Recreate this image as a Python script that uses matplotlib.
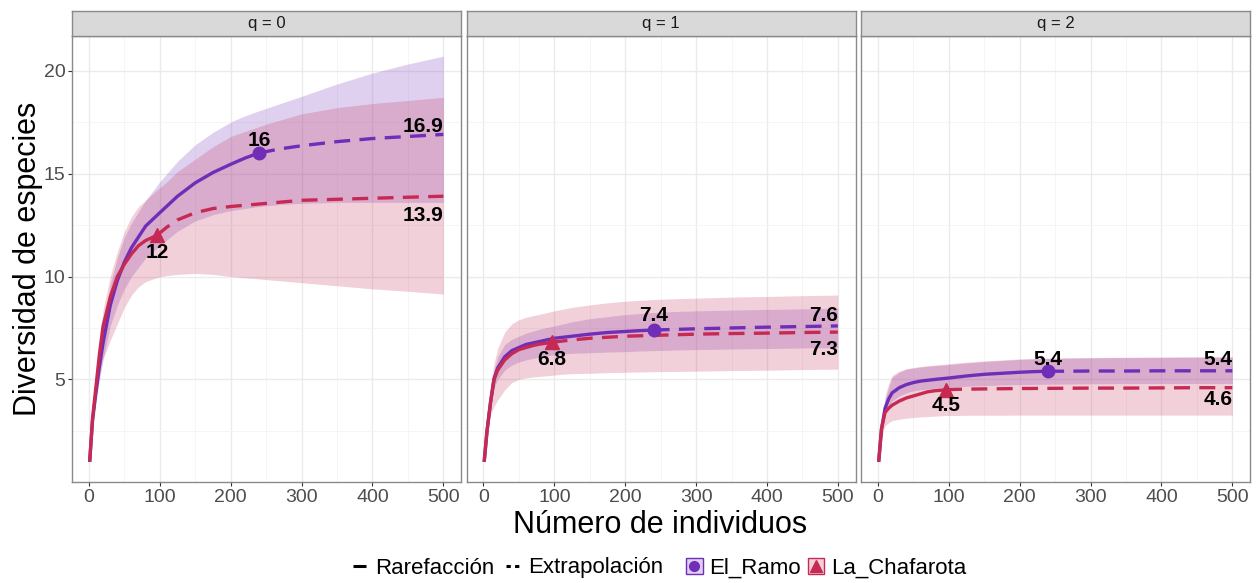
import matplotlib.pyplot as plt
from matplotlib.colors import to_rgba
from matplotlib.legend_handler import HandlerTuple
from matplotlib.lines import Line2D
from matplotlib.patches import Patch

plt.rcParams['font.family'] = ['Liberation Sans', 'DejaVu Sans']

# Sample sizes (individuals) for the interpolated and extrapolated parts
n_ramo_rare = [1, 5, 10, 15, 20, 30, 40, 50, 60, 80, 100, 125, 150, 175, 200, 220, 240]
n_ramo_ext = [240, 270, 300, 350, 400, 450, 500]
n_chaf_rare = [1, 5, 10, 15, 20, 30, 40, 50, 60, 70, 80, 96]
n_chaf_ext = [96, 110, 125, 150, 175, 200, 250, 300, 350, 400, 450, 500]

# q = 0 (species richness)
ramo_q0_rare = [1.0, 3.0, 4.4, 5.7, 6.8, 8.6, 9.8, 10.7, 11.4, 12.45, 13.1, 13.9, 14.55, 15.05, 15.45,
                15.75, 16.0]
ramo_q0_ext = [16.0, 16.2, 16.35, 16.55, 16.7, 16.8, 16.9]
ramo_q0_lo = [1.0, 2.8, 4.1, 5.0, 6.0, 7.6, 8.6, 9.4, 10.0, 10.9, 11.5, 12.2, 12.7, 13.0, 13.2, 13.3,
              13.4, 13.5, 13.55, 13.6, 13.6, 13.6, 13.6]
ramo_q0_hi = [1.0, 3.2, 4.8, 6.3, 7.6, 9.6, 10.9, 11.9, 12.6, 13.7, 14.6, 15.6, 16.4, 17.0, 17.5, 17.8,
              18.05, 18.4, 18.75, 19.35, 19.88, 20.32, 20.7]
chaf_q0_rare = [1.0, 3.1, 4.7, 6.3, 7.6, 9.0, 10.0, 10.6, 11.1, 11.5, 11.75, 12.0]
chaf_q0_ext = [12.0, 12.4, 12.75, 13.1, 13.3, 13.4, 13.55, 13.7, 13.75, 13.8, 13.85, 13.9]
chaf_q0_lo = [1.0, 2.8, 4.2, 5.3, 6.0, 6.9, 7.7, 8.5, 9.1, 9.5, 9.75, 9.95, 10.05, 10.1, 10.15, 10.1,
              10.0, 9.85, 9.7, 9.55, 9.4, 9.28, 9.15]
chaf_q0_hi = [1.0, 3.4, 5.3, 7.1, 8.4, 10.0, 11.2, 12.2, 12.9, 13.4, 13.7, 14.2, 14.6, 15.1, 15.7, 16.3,
              16.8, 17.4, 17.9, 18.2, 18.4, 18.55, 18.7]

# q = 1 (exponential of Shannon entropy)
ramo_q1_rare = [1.0, 2.5, 3.9, 5.05, 5.55, 6.1, 6.4, 6.55, 6.7, 6.85, 7.0, 7.1, 7.2, 7.28, 7.33, 7.37,
                7.4]
ramo_q1_ext = [7.4, 7.43, 7.46, 7.5, 7.54, 7.57, 7.6]
ramo_q1_lo = [1.0, 2.3, 3.6, 4.6, 5.0, 5.45, 5.7, 5.85, 5.95, 6.1, 6.2, 6.27, 6.3, 6.33, 6.35, 6.38,
              6.4, 6.43, 6.45, 6.48, 6.5, 6.53, 6.55]
ramo_q1_hi = [1.0, 2.7, 4.3, 5.5, 6.1, 6.7, 6.95, 7.1, 7.25, 7.45, 7.6, 7.8, 7.95, 8.05, 8.15, 8.2,
              8.25, 8.3, 8.33, 8.37, 8.4, 8.43, 8.45]
chaf_q1_rare = [1.0, 2.5, 3.9, 5.0, 5.45, 5.95, 6.25, 6.45, 6.55, 6.65, 6.72, 6.8]
chaf_q1_ext = [6.8, 6.86, 6.92, 7.0, 7.05, 7.1, 7.15, 7.2, 7.23, 7.25, 7.28, 7.3]
chaf_q1_lo = [1.0, 2.2, 3.3, 3.7, 4.0, 4.5, 4.85, 5.0, 5.08, 5.12, 5.15, 5.2, 5.25, 5.28, 5.3, 5.33,
              5.35, 5.38, 5.4, 5.43, 5.45, 5.48, 5.5]
chaf_q1_hi = [1.0, 3.0, 4.8, 5.8, 6.5, 7.3, 7.7, 7.9, 8.02, 8.1, 8.17, 8.3, 8.4, 8.5, 8.62, 8.72,
              8.8, 8.9, 8.95, 9.0, 9.03, 9.07, 9.1]

# q = 2 (inverse Simpson)
ramo_q2_rare = [1.0, 2.6, 3.6, 4.05, 4.35, 4.6, 4.75, 4.85, 4.92, 5.0, 5.07, 5.17, 5.25, 5.3, 5.35,
                5.38, 5.4]
ramo_q2_ext = [5.4, 5.4, 5.41, 5.41, 5.42, 5.42, 5.42]
ramo_q2_lo = [1.0, 2.4, 3.3, 3.7, 3.95, 4.2, 4.35, 4.45, 4.5, 4.57, 4.62, 4.67, 4.7, 4.73, 4.75, 4.76,
              4.77, 4.78, 4.79, 4.8, 4.8, 4.8, 4.8]
ramo_q2_hi = [1.0, 2.8, 4.0, 4.6, 5.1, 5.35, 5.5, 5.55, 5.6, 5.67, 5.72, 5.8, 5.87, 5.92, 5.97, 6.0,
              6.02, 6.04, 6.05, 6.06, 6.07, 6.08, 6.08]
chaf_q2_rare = [1.0, 2.6, 3.4, 3.6, 3.75, 3.95, 4.1, 4.2, 4.3, 4.4, 4.45, 4.5]
chaf_q2_ext = [4.5, 4.52, 4.53, 4.54, 4.55, 4.56, 4.57, 4.58, 4.58, 4.59, 4.6, 4.6]
chaf_q2_lo = [1.0, 2.2, 2.75, 2.9, 3.0, 3.07, 3.12, 3.15, 3.18, 3.2, 3.22, 3.25, 3.25, 3.26, 3.26, 3.26,
              3.27, 3.27, 3.27, 3.27, 3.27, 3.27, 3.27]
chaf_q2_hi = [1.0, 2.9, 4.2, 4.8, 5.2, 5.4, 5.52, 5.58, 5.63, 5.67, 5.7, 5.75, 5.8, 5.84, 5.9, 5.95,
              6.0, 6.04, 6.06, 6.08, 6.09, 6.1, 6.1]

orders = ['q = 0', 'q = 1', 'q = 2']
sites = ['El_Ramo', 'La_Chafarota']
colors = {'El_Ramo': '#6F2DB8', 'La_Chafarota': '#C62A52'}
markers = {'El_Ramo': ('o', 9), 'La_Chafarota': ('^', 10)}
sizes = {'El_Ramo': (n_ramo_rare, n_ramo_ext), 'La_Chafarota': (n_chaf_rare, n_chaf_ext)}

curves = {
    ('q = 0', 'El_Ramo'): (ramo_q0_rare, ramo_q0_ext, ramo_q0_lo, ramo_q0_hi),
    ('q = 0', 'La_Chafarota'): (chaf_q0_rare, chaf_q0_ext, chaf_q0_lo, chaf_q0_hi),
    ('q = 1', 'El_Ramo'): (ramo_q1_rare, ramo_q1_ext, ramo_q1_lo, ramo_q1_hi),
    ('q = 1', 'La_Chafarota'): (chaf_q1_rare, chaf_q1_ext, chaf_q1_lo, chaf_q1_hi),
    ('q = 2', 'El_Ramo'): (ramo_q2_rare, ramo_q2_ext, ramo_q2_lo, ramo_q2_hi),
    ('q = 2', 'La_Chafarota'): (chaf_q2_rare, chaf_q2_ext, chaf_q2_lo, chaf_q2_hi),
}

# vertical nudges (points) for the observed / extrapolated value labels
nudges = {
    ('q = 0', 'El_Ramo'): (4.8, 1.6),
    ('q = 0', 'La_Chafarota'): (-16.2, -18.0),
    ('q = 1', 'El_Ramo'): (6.5, 3.4),
    ('q = 1', 'La_Chafarota'): (-16.5, -16.8),
    ('q = 2', 'El_Ramo'): (4.5, 3.9),
    ('q = 2', 'La_Chafarota'): (-15.4, -12.2),
}

RIBBON_ALPHA = 0.22
W, H = 1256, 583


def fmt(v):
    return f"{round(v, 1):g}"


def draw_panel(ax, q):
    # ribbons first, then curves, then observed points and value labels
    for site in sites:
        n_rare, n_ext = sizes[site]
        rare, ext, lo, hi = curves[(q, site)]
        ax.fill_between(n_rare + n_ext[1:], lo, hi, color=colors[site],
                        alpha=RIBBON_ALPHA, lw=0)
    for site in sites:
        n_rare, n_ext = sizes[site]
        rare, ext, lo, hi = curves[(q, site)]
        ax.plot(n_rare, rare, color=colors[site], lw=2.4, solid_capstyle='butt',
                solid_joinstyle='round')
        ax.plot(n_ext, ext, color=colors[site], lw=2.4, dashes=(4.8, 2.8))
    for site in sites:
        n_rare, n_ext = sizes[site]
        rare, ext, lo, hi = curves[(q, site)]
        m, ms = markers[site]
        ax.plot(n_rare[-1], rare[-1], marker=m, ms=ms, color=colors[site], ls='none')
        dy_obs, dy_ext = nudges[(q, site)]
        ax.annotate(fmt(rare[-1]), (n_rare[-1], rare[-1]), xytext=(0, dy_obs),
                    textcoords='offset points', ha='center', va='baseline',
                    fontsize=15, fontweight='bold', color='black')
        ax.annotate(fmt(ext[-1]), (n_ext[-1], ext[-1]), xytext=(0, dy_ext),
                    textcoords='offset points', ha='right', va='baseline',
                    fontsize=15, fontweight='bold', color='black')


fig = plt.figure(figsize=(W / 100, H / 100), dpi=100)
lefts = [72, 466.5, 861]
for i, q in enumerate(orders):
    ax = fig.add_axes([lefts[i] / W, 101 / H, 389 / W, 446 / H])
    draw_panel(ax, q)
    ax.set_xlim(-23.95, 524.95)
    ax.set_ylim(0.02, 21.68)
    ax.set_xticks([0, 100, 200, 300, 400, 500])
    ax.set_xticks([50, 150, 250, 350, 450], minor=True)
    ax.set_yticks([5, 10, 15, 20])
    ax.set_yticks([2.5, 7.5, 12.5, 17.5], minor=True)
    ax.set_axisbelow(True)
    ax.grid(which='major', color='#EBEBEB', lw=1.0)
    ax.grid(which='minor', color='#F4F4F4', lw=0.6)
    for sp in ax.spines.values():
        sp.set_color('#8A8A8A')
        sp.set_linewidth(1.0)
    ax.tick_params(which='major', labelsize=14, labelcolor='#4D4D4D', color='#333333',
                   length=2.75, width=0.8, pad=2)
    ax.tick_params(which='minor', length=0)
    if i > 0:
        ax.tick_params(axis='y', left=False, labelleft=False)

    strip = fig.add_axes([lefts[i] / W, (H - 36) / H, 389 / W, 25 / H])
    strip.set_facecolor('#D9D9D9')
    strip.set_xticks([])
    strip.set_yticks([])
    for sp in strip.spines.values():
        sp.set_color('#8A8A8A')
        sp.set_linewidth(1.0)
    strip.text(0.5, 0.5, q, ha='center', va='center', fontsize=12, color='#1A1A1A',
               transform=strip.transAxes)

fig.text(660 / W, (H - 533) / H, 'Número de individuos', ha='center', va='baseline', fontsize=22)
fig.text(28 / W, (H - 259) / H, 'Diversidad de especies', ha='center', va='center',
         rotation=90, fontsize=22)

# legends: line type and site
type_handles = [Line2D([], [], color='black', lw=2.2, solid_capstyle='butt'),
                Line2D([], [], color='black', lw=2.2, dashes=(1.4, 1.4))]
fig.legend(type_handles, ['Rarefacción', 'Extrapolación'], loc='center right',
           bbox_to_anchor=(663 / W, (H - 568) / H), ncol=2, frameon=False, fontsize=16,
           handlelength=0.6, handletextpad=0.4, columnspacing=0.5, borderpad=0,
           borderaxespad=0)

site_handles = []
for site in sites:
    m, ms = markers[site]
    box = Patch(facecolor=to_rgba(colors[site], RIBBON_ALPHA), edgecolor=colors[site], lw=1)
    mark = Line2D([], [], marker=m, ms=ms - 2, color=colors[site], ls='none')
    site_handles.append((box, mark))
fig.legend(site_handles, sites, loc='center left', bbox_to_anchor=(686 / W, (H - 568) / H),
           ncol=2, frameon=False, fontsize=16, handlelength=0.75, handleheight=0.75,
           handletextpad=0.3, columnspacing=0.3, borderpad=0, borderaxespad=0,
           handler_map={tuple: HandlerTuple(ndivide=1)})

fig.savefig('out.png', dpi=100)
